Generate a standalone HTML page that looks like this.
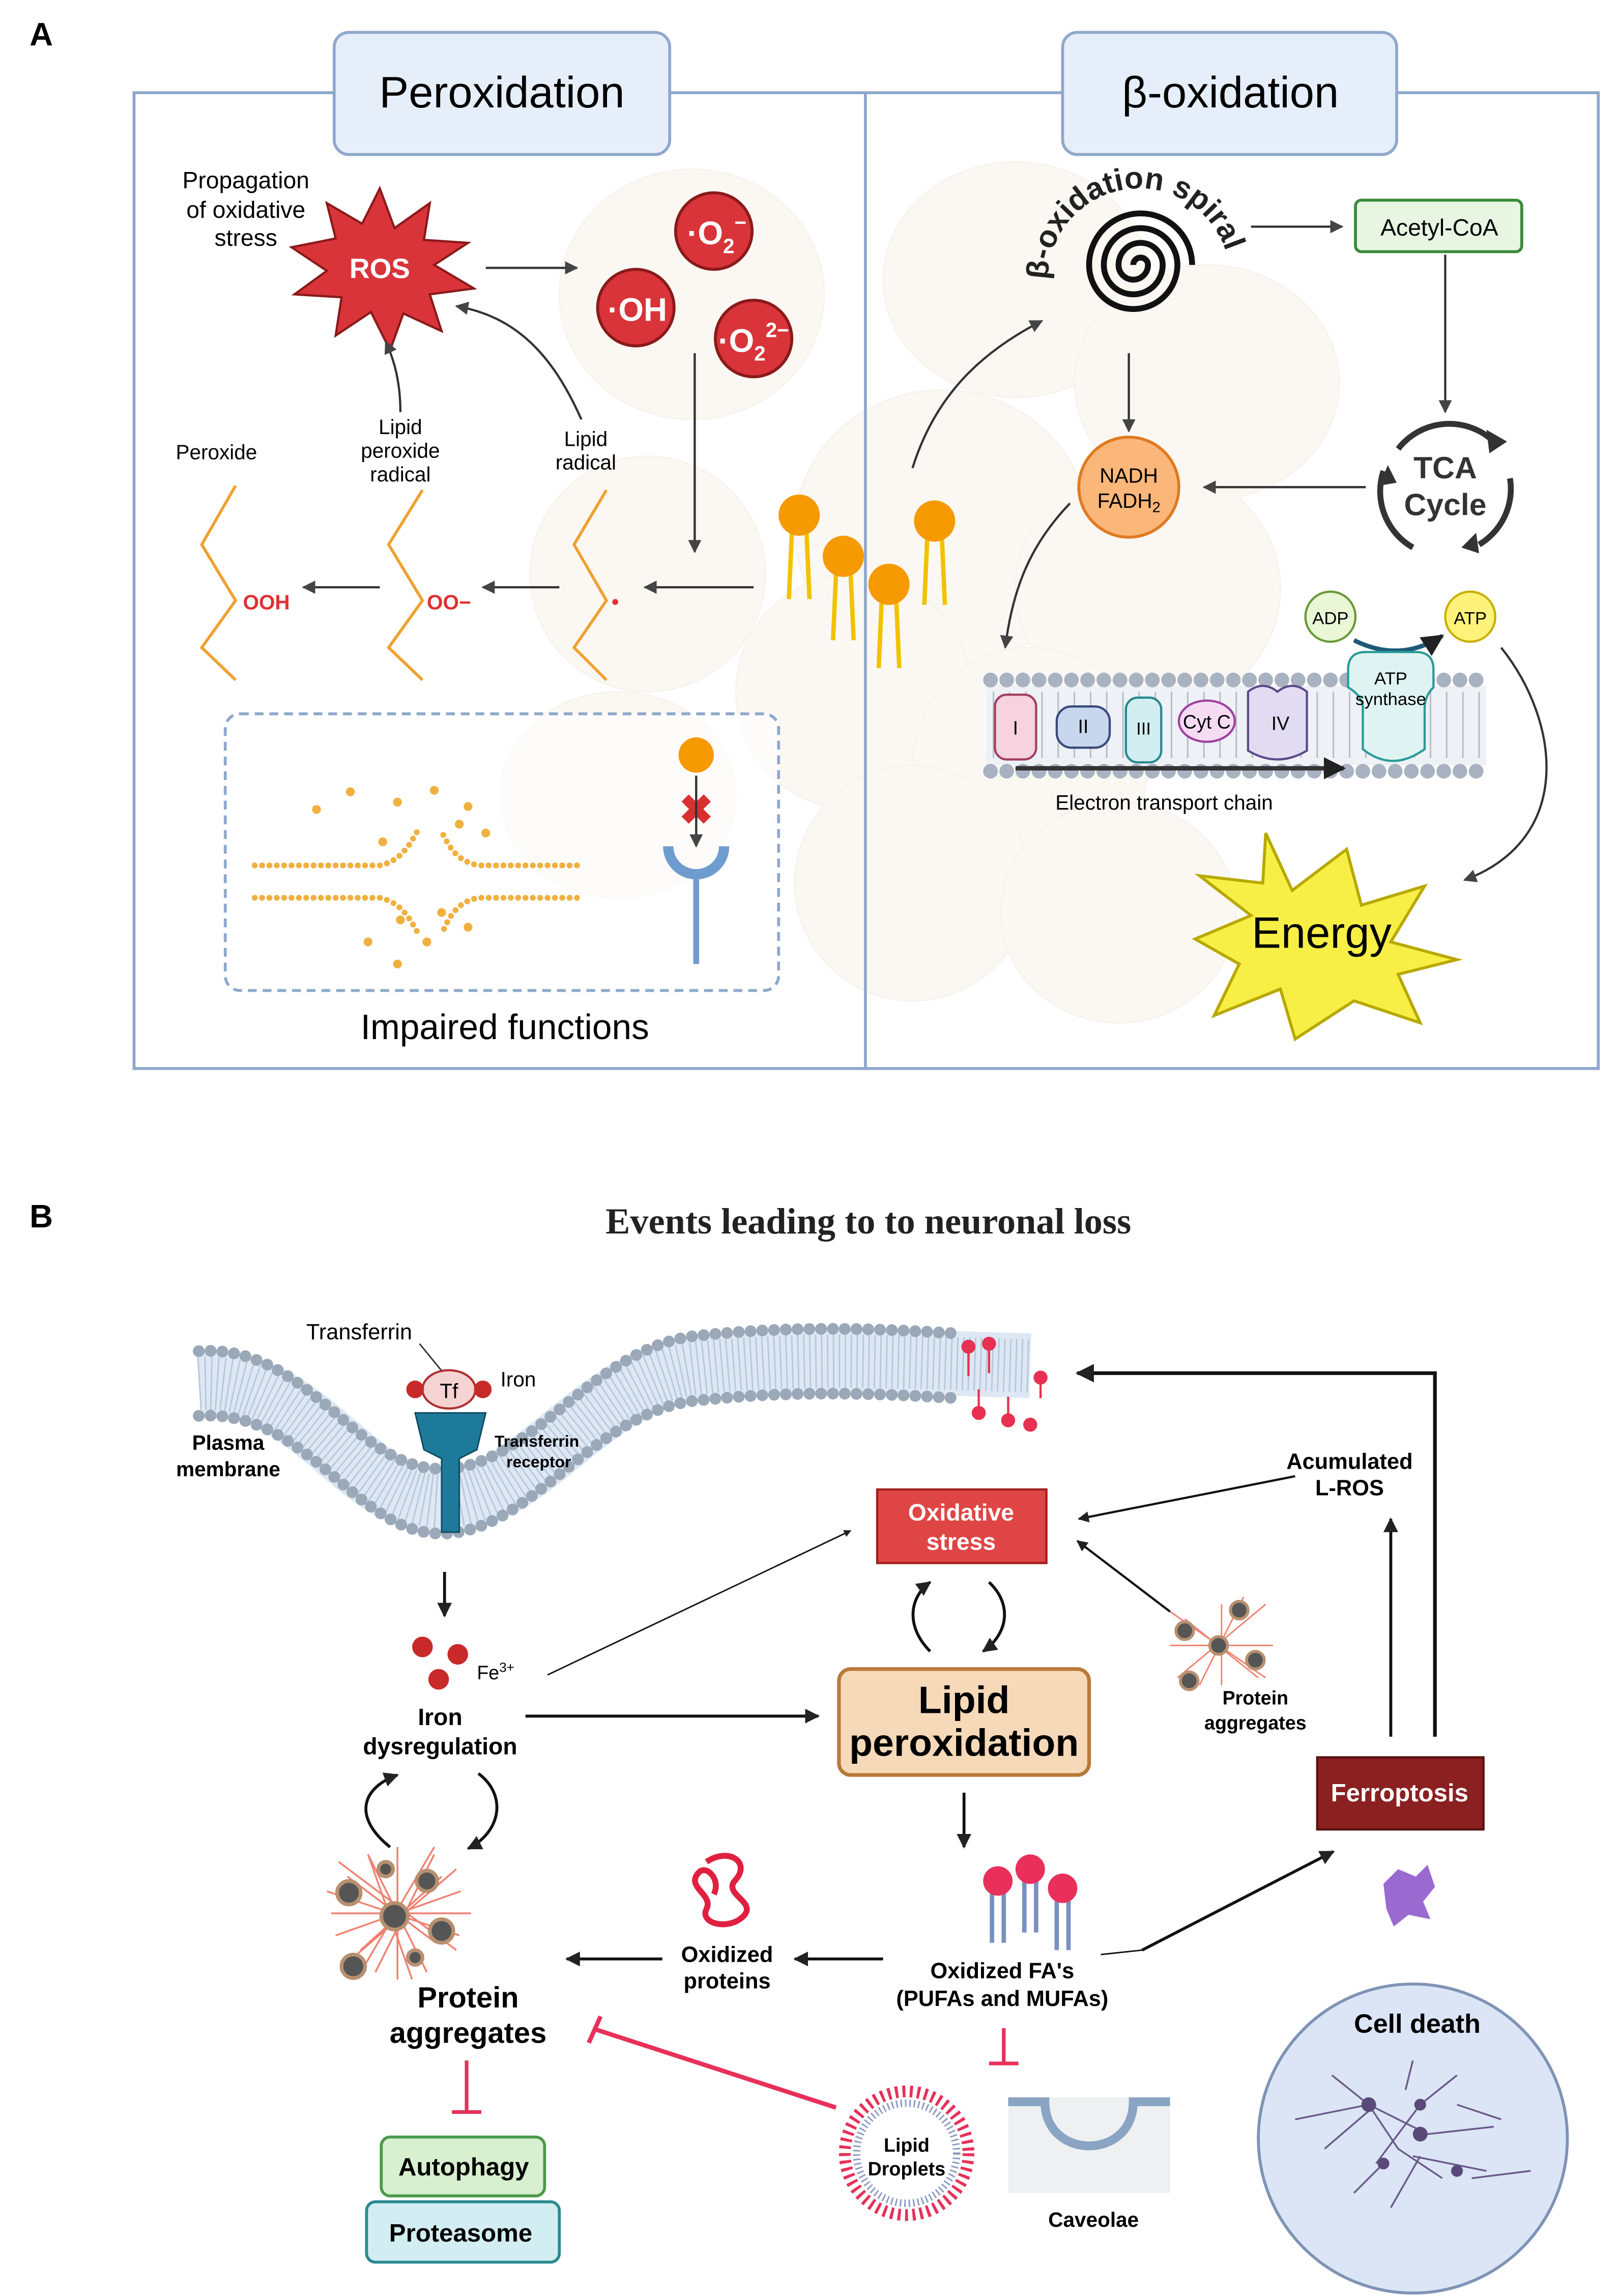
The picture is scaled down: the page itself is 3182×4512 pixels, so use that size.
<!DOCTYPE html>
<html><head><meta charset="utf-8"><style>html,body{margin:0;padding:0;background:#fff}svg{display:block}</style></head>
<body>
<svg xmlns="http://www.w3.org/2000/svg" width="3182" height="4512" viewBox="0 0 1100 1560" font-family="Liberation Sans, sans-serif">
<defs>
<marker id="ah" viewBox="0 0 10 10" refX="9" refY="5" markerWidth="5" markerHeight="5" orient="auto"><path d="M0,0 L10,5 L0,10 z" fill="#222"/></marker>
<marker id="ahg" viewBox="0 0 10 10" refX="9" refY="5" markerWidth="6" markerHeight="6" orient="auto"><path d="M0,0 L10,5 L0,10 z" fill="#444"/></marker>
<path id="arcT" d="M712,190 A62,62 0 0 1 836,190"/>
</defs>
<rect width="1100" height="1560" fill="#fff"/>

<!-- ===== Panel A ===== -->
<text x="20" y="31" font-size="22" font-weight="bold">A</text>
<g opacity="0.55">
<ellipse cx="470" cy="200" rx="90" ry="85" fill="#f8f4ec" stroke="#f0ebe0"/>
<ellipse cx="640" cy="360" rx="100" ry="95" fill="#f8f4ec" stroke="#f0ebe0"/>
<ellipse cx="440" cy="390" rx="80" ry="80" fill="#f8f4ec" stroke="#f0ebe0"/>
<ellipse cx="690" cy="190" rx="90" ry="80" fill="#f8f4ec" stroke="#f0ebe0"/>
<ellipse cx="820" cy="260" rx="90" ry="80" fill="#f8f4ec" stroke="#f0ebe0"/>
<ellipse cx="780" cy="400" rx="90" ry="85" fill="#f8f4ec" stroke="#f0ebe0"/>
<ellipse cx="580" cy="470" rx="80" ry="80" fill="#f8f4ec" stroke="#f0ebe0"/>
<ellipse cx="700" cy="520" rx="80" ry="80" fill="#f8f4ec" stroke="#f0ebe0"/>
<ellipse cx="420" cy="540" rx="80" ry="70" fill="#f8f4ec" stroke="#f0ebe0"/>
<ellipse cx="620" cy="600" rx="80" ry="80" fill="#f8f4ec" stroke="#f0ebe0"/>
<ellipse cx="760" cy="620" rx="80" ry="75" fill="#f8f4ec" stroke="#f0ebe0"/>
</g>
<g fill="none" stroke="#8fa8cc" stroke-width="2">
<rect x="91" y="63" width="995" height="663"/>
<line x1="588" y1="63" x2="588" y2="726"/>
</g>
<rect x="227" y="22" width="228" height="83" rx="10" fill="#e6eef9" stroke="#8fa8cc" stroke-width="2"/>
<text x="341" y="73" font-size="30" text-anchor="middle">Peroxidation</text>
<rect x="722" y="22" width="227" height="83" rx="10" fill="#e6eef9" stroke="#8fa8cc" stroke-width="2"/>
<text x="836" y="73" font-size="30" text-anchor="middle">β-oxidation</text>

<!-- ROS -->
<text font-size="16" text-anchor="middle"><tspan x="167" y="128">Propagation</tspan><tspan x="167" y="148">of oxidative</tspan><tspan x="167" y="167">stress</tspan></text>
<polygon points="258,128 268,155 292,138 288,163 318,165 295,180 322,196 292,200 300,225 274,213 265,238 252,212 228,228 232,202 200,200 222,184 198,168 228,162 222,138 246,152" fill="#d8343a" stroke="#8a1a1a" stroke-width="1.5"/>
<text x="258" y="189" font-size="19" font-weight="bold" fill="#fff" text-anchor="middle">ROS</text>
<line x1="330" y1="182" x2="392" y2="182" stroke="#333" stroke-width="1.5" marker-end="url(#ahg)"/>
<g stroke="#8a1a1a" stroke-width="2" fill="#d8343a">
<circle cx="485" cy="157" r="26"/><circle cx="432" cy="209" r="26"/><circle cx="512" cy="230" r="26"/>
</g>
<g fill="#fff" font-weight="bold" text-anchor="middle">
<text x="487" y="166" font-size="22">·O<tspan font-size="14" dy="6">2</tspan><tspan font-size="14" dy="-16">−</tspan></text>
<text x="433" y="218" font-size="22">·OH</text>
<text x="512" y="239" font-size="22">·O<tspan font-size="14" dy="6">2</tspan><tspan font-size="14" dy="-16">2−</tspan></text>
</g>
<line x1="472" y1="240" x2="472" y2="375" stroke="#333" stroke-width="1.5" marker-end="url(#ahg)"/>
<line x1="512" y1="399" x2="438" y2="399" stroke="#333" stroke-width="1.5" marker-end="url(#ahg)"/>
<line x1="380" y1="399" x2="328" y2="399" stroke="#333" stroke-width="1.5" marker-end="url(#ahg)"/>
<line x1="258" y1="399" x2="206" y2="399" stroke="#333" stroke-width="1.5" marker-end="url(#ahg)"/>
<path d="M395,285 C375,240 350,215 310,208" fill="none" stroke="#333" stroke-width="1.5" marker-end="url(#ahg)"/>
<path d="M272,280 C272,260 268,245 262,232" fill="none" stroke="#333" stroke-width="1.5" marker-end="url(#ahg)"/>
<text font-size="14" text-anchor="middle"><tspan x="147" y="312">Peroxide</tspan></text>
<text font-size="14" text-anchor="middle"><tspan x="272" y="295">Lipid</tspan><tspan x="272" y="311">peroxide</tspan><tspan x="272" y="327">radical</tspan></text>
<text font-size="14" text-anchor="middle"><tspan x="398" y="303">Lipid</tspan><tspan x="398" y="319">radical</tspan></text>
<g fill="none" stroke="#f0a030" stroke-width="2">
<polyline points="160,330 137,370 160,408 137,440 160,462"/>
<polyline points="287,333 264,370 287,408 264,440 287,462"/>
<polyline points="412,333 390,370 412,408 390,440 412,462"/>
</g>
<text x="165" y="414" font-size="14" fill="#e03030" font-weight="bold">OOH</text>
<text x="290" y="414" font-size="14" fill="#e03030" font-weight="bold">OO−</text>
<circle cx="418" cy="409" r="2" fill="#e03030"/>

<!-- lipids -->
<g stroke="#f2c200" stroke-width="3" fill="none">
<path d="M538,362 l-2,45 M548,362 l2,45"/><path d="M568,390 l-2,45 M578,390 l2,45"/>
<path d="M599,409 l-2,45 M609,409 l2,45"/><path d="M630,366 l-2,45 M640,366 l2,45"/>
</g>
<g fill="#f59a00"><circle cx="543" cy="350" r="14"/><circle cx="573" cy="378" r="14"/><circle cx="604" cy="397" r="14"/><circle cx="635" cy="354" r="14"/></g>
<path d="M620,318 C635,270 665,240 708,218" fill="none" stroke="#333" stroke-width="1.5" marker-end="url(#ahg)"/>

<!-- impaired box -->
<rect x="153" y="485" width="376" height="188" rx="10" fill="#fff" fill-opacity="0.6" stroke="#8fa8cc" stroke-width="2" stroke-dasharray="6 4"/>
<g stroke="#f0b040" stroke-width="4" stroke-dasharray="0 5" stroke-linecap="round" fill="none">
<path d="M173,588 L258,588 C272,585 278,575 285,562"/><path d="M173,610 L258,610 C272,613 278,623 285,636"/>
<path d="M392,588 L325,588 C310,585 305,575 300,565"/><path d="M392,610 L325,610 C310,613 305,623 300,635"/>
</g>
<g fill="#f0b040"><circle cx="215" cy="550" r="3"/><circle cx="238" cy="538" r="3"/><circle cx="260" cy="572" r="3"/><circle cx="270" cy="545" r="3"/><circle cx="295" cy="537" r="3"/><circle cx="312" cy="560" r="3"/><circle cx="330" cy="566" r="3"/><circle cx="318" cy="548" r="3"/><circle cx="250" cy="640" r="3"/><circle cx="272" cy="625" r="3"/><circle cx="290" cy="640" r="3"/><circle cx="318" cy="630" r="3"/><circle cx="270" cy="655" r="3"/><circle cx="300" cy="620" r="3"/></g>
<circle cx="473" cy="513" r="12" fill="#f59a00"/>
<text x="473" y="560" font-size="28" fill="#d83030" text-anchor="middle" font-weight="bold">✖</text>
<line x1="473" y1="527" x2="473" y2="575" stroke="#333" stroke-width="1.5" marker-end="url(#ahg)"/>
<path d="M454,575 a19,19 0 0 0 38,0" fill="none" stroke="#6f9ccf" stroke-width="7"/>
<line x1="473" y1="595" x2="473" y2="655" stroke="#6f9ccf" stroke-width="4"/>
<text x="343" y="706" font-size="24" text-anchor="middle">Impaired functions</text>

<!-- right panel -->
<text font-size="21" font-weight="bold" fill="#222"><textPath href="#arcT">β-oxidation spiral</textPath></text>
<path d="M770,180 a5,5 0 0 1 10,0 a10,10 0 0 1 -20,0 a15,15 0 0 1 30,0 a20,20 0 0 1 -40,0 a25,25 0 0 1 50,0 a30,30 0 0 1 -60,0 a35,35 0 0 1 70,0" fill="none" stroke="#111" stroke-width="4"/>
<line x1="850" y1="154" x2="912" y2="154" stroke="#333" stroke-width="1.5" marker-end="url(#ahg)"/>
<rect x="921" y="136" width="113" height="35" rx="4" fill="#e7f5e2" stroke="#3a8a3a" stroke-width="2"/>
<text x="978" y="160" font-size="16" text-anchor="middle">Acetyl-CoA</text>
<line x1="982" y1="173" x2="982" y2="280" stroke="#333" stroke-width="1.5" marker-end="url(#ahg)"/>
<g fill="none" stroke="#333" stroke-width="4">
<path d="M950,305 A44,44 0 0 1 1015,300"/><path d="M1026,325 A44,44 0 0 1 1005,370"/><path d="M960,372 A44,44 0 0 1 940,320"/>
</g>
<g fill="#333"><path d="M1010,292 l14,8 l-12,8z"/><path d="M1003,362 l2,14 l-12,-4z"/><path d="M937,330 l6,-14 l6,12z"/></g>
<text x="982" y="325" font-size="21" font-weight="bold" text-anchor="middle" fill="#333">TCA</text>
<text x="982" y="350" font-size="21" font-weight="bold" text-anchor="middle" fill="#333">Cycle</text>
<line x1="928" y1="331" x2="818" y2="331" stroke="#333" stroke-width="1.5" marker-end="url(#ahg)"/>
<line x1="767" y1="240" x2="767" y2="293" stroke="#333" stroke-width="1.5" marker-end="url(#ahg)"/>
<circle cx="767" cy="331" r="34" fill="#fbb77a" stroke="#e07a20" stroke-width="2"/>
<text x="767" y="328" font-size="14" text-anchor="middle">NADH</text>
<text x="767" y="345" font-size="14" text-anchor="middle">FADH<tspan font-size="10" dy="3">2</tspan></text>
<path d="M727,342 C700,370 688,400 683,440" fill="none" stroke="#333" stroke-width="1.5" marker-end="url(#ahg)"/>
<circle cx="904" cy="419" r="17" fill="#eaf7d6" stroke="#6a9a3a" stroke-width="1.5"/>
<text x="904" y="424" font-size="12" text-anchor="middle">ADP</text>
<circle cx="999" cy="419" r="17" fill="#fff27a" stroke="#c8b000" stroke-width="1.5"/>
<text x="999" y="424" font-size="12" text-anchor="middle">ATP</text>
<path d="M920,435 C940,445 960,445 980,432" fill="none" stroke="#1d5a7a" stroke-width="3" marker-end="url(#ah)"/>
<path d="M1020,440 C1060,490 1070,570 995,598" fill="none" stroke="#333" stroke-width="1.5" marker-end="url(#ahg)"/>
<!-- ETC membrane -->
<rect x="670" y="466" width="340" height="54" fill="#eef1f5"/>
<g stroke="#b4bcc8" stroke-width="1">
<path d="M675,470 v45 M686,470 v45 M697,470 v45 M708,470 v45 M719,470 v45 M730,470 v45 M741,470 v45 M752,470 v45 M763,470 v45 M774,470 v45 M785,470 v45 M796,470 v45 M807,470 v45 M818,470 v45 M829,470 v45 M840,470 v45 M851,470 v45 M862,470 v45 M873,470 v45 M884,470 v45 M895,470 v45 M906,470 v45 M917,470 v45 M928,470 v45 M939,470 v45 M950,470 v45 M961,470 v45 M972,470 v45 M983,470 v45 M994,470 v45 M1005,470 v45"/>
</g>
<g stroke="#a8b2c0" stroke-width="10" stroke-linecap="round" stroke-dasharray="0 11"><line x1="673" y1="462" x2="1008" y2="462"/><line x1="673" y1="524" x2="1008" y2="524"/></g>
<rect x="676" y="472" width="28" height="44" rx="8" fill="#f6d3de" stroke="#a04060" stroke-width="1.5"/><text x="690" y="499" font-size="13" text-anchor="middle">I</text>
<rect x="718" y="480" width="36" height="28" rx="10" fill="#c8d6ee" stroke="#3a4a7a" stroke-width="1.5"/><text x="736" y="498" font-size="13" text-anchor="middle">II</text>
<rect x="765" y="474" width="24" height="44" rx="8" fill="#d2eef0" stroke="#2a8a90" stroke-width="1.5"/><text x="777" y="499" font-size="12" text-anchor="middle">III</text>
<ellipse cx="820" cy="490" rx="19" ry="14" fill="#f5dcf3" stroke="#a040a0" stroke-width="1.5"/><text x="820" y="495" font-size="13" text-anchor="middle">Cyt C</text>
<path d="M848,470 q10,-8 20,0 q10,-8 20,0 v40 q-20,12 -40,0z" fill="#e2dcf3" stroke="#5a4a8a" stroke-width="1.5"/><text x="870" y="496" font-size="13" text-anchor="middle">IV</text>
<path d="M916,455 q0,-12 12,-12 h34 q12,0 12,12 v12 q-6,6 -6,14 v28 q-22,16 -42,0 v-28 q0,-8 -10,-14z" fill="#dff4f2" stroke="#2a9a98" stroke-width="1.5"/>
<text x="945" y="465" font-size="12" text-anchor="middle">ATP</text><text x="945" y="479" font-size="12" text-anchor="middle">synthase</text>
<line x1="690" y1="522" x2="913" y2="522" stroke="#333" stroke-width="3" marker-end="url(#ah)"/>
<text x="791" y="550" font-size="14" text-anchor="middle">Electron transport chain</text>
<polygon points="860,566 878,605 915,577 925,615 968,602 945,640 990,652 950,662 965,695 920,680 880,706 870,672 825,690 842,655 812,638 850,622 815,595 858,600" fill="#f7ef45" stroke="#b8a800" stroke-width="2"/>
<text x="898" y="644" font-size="30" text-anchor="middle">Energy</text>

<!-- ===== Panel B ===== -->
<text x="20" y="834" font-size="22" font-weight="bold">B</text>
<text x="590" y="838" font-size="25" font-weight="bold" text-anchor="middle" font-family="Liberation Serif, serif" fill="#222">Events leading to to neuronal loss</text>

<!-- membrane -->
<path d="M135,940 C210,935 240,1020 300,1020 C360,1020 400,940 470,930 C540,922 600,925 700,928" fill="none" stroke="#dde8f4" stroke-width="44"/>
<g fill="none"><path d="M135,940 C210,935 240,1020 300,1020 C360,1020 400,940 470,930 C540,922 600,925 700,928" stroke-width="36" stroke-dasharray="1 3" stroke="#b8c8da"/></g>
<g fill="none" stroke="#9aa8b8" stroke-width="8" stroke-linecap="round" stroke-dasharray="0 8">
<path d="M135,918 C210,913 240,998 300,998 C360,998 400,918 470,908 C540,900 600,903 650,906"/>
<path d="M135,962 C210,957 240,1042 300,1042 C360,1042 400,962 470,952 C540,944 600,947 650,950"/>
</g>
<g fill="#e83050" stroke="#e83050" stroke-width="1.5">
<circle cx="658" cy="915" r="4"/><line x1="658" y1="919" x2="658" y2="935"/><circle cx="672" cy="913" r="4"/><line x1="672" y1="917" x2="672" y2="933"/>
<circle cx="665" cy="960" r="4"/><line x1="665" y1="944" x2="665" y2="956"/><circle cx="685" cy="965" r="4"/><line x1="685" y1="949" x2="685" y2="961"/>
<circle cx="700" cy="968" r="4"/><circle cx="707" cy="936" r="4"/><line x1="707" y1="940" x2="707" y2="950"/>
</g>
<text x="155" y="985" font-size="14" font-weight="bold" text-anchor="middle">Plasma</text>
<text x="155" y="1003" font-size="14" font-weight="bold" text-anchor="middle">membrane</text>
<text x="244" y="910" font-size="15" text-anchor="middle">Transferrin</text>
<line x1="285" y1="913" x2="303" y2="935" stroke="#333"/>
<ellipse cx="305" cy="944" rx="18" ry="13" fill="#f6d3d3" stroke="#b03030" stroke-width="1.5"/>
<text x="305" y="950" font-size="14" text-anchor="middle">Tf</text>
<circle cx="282" cy="944" r="6" fill="#c82a2a"/><circle cx="328" cy="944" r="6" fill="#c82a2a"/>
<text x="340" y="942" font-size="14">Iron</text>
<path d="M282,960 h48 l-6,25 l-12,6 v50 h-12 v-50 l-12,-6z" fill="#1e7a9a" stroke="#0d4a60"/>
<text x="336" y="983" font-size="11" font-weight="bold">Transferrin</text>
<text x="344" y="997" font-size="11" font-weight="bold">receptor</text>
<line x1="302" y1="1068" x2="302" y2="1098" stroke="#111" stroke-width="2" marker-end="url(#ah)"/>
<circle cx="287" cy="1119" r="7" fill="#c82a2a"/><circle cx="311" cy="1124" r="7" fill="#c82a2a"/><circle cx="298" cy="1141" r="7" fill="#c82a2a"/>
<text x="324" y="1141" font-size="13">Fe<tspan font-size="9" dy="-5">3+</tspan></text>
<text x="299" y="1172" font-size="16" font-weight="bold" text-anchor="middle">Iron</text>
<text x="299" y="1192" font-size="16" font-weight="bold" text-anchor="middle">dysregulation</text>
<path d="M265,1255 C240,1235 245,1215 270,1206" fill="none" stroke="#111" stroke-width="2" marker-end="url(#ah)"/>
<path d="M325,1205 C345,1220 340,1245 318,1256" fill="none" stroke="#111" stroke-width="2" marker-end="url(#ah)"/>
<!-- protein aggregates left -->
<g stroke="#f08070" stroke-width="1.2" fill="none">
<path d="M230,1265 l80,60 M240,1330 l70,-60 M225,1300 h95 M270,1255 v90 M250,1260 l40,80 M295,1260 l-40,80"/>
<path d="M236,1275 l60,45 M300,1275 l-55,50 M228,1315 l85,-30 M222,1285 l90,30 M245,1340 l50,-85 M280,1345 l-30,-85"/>
</g>
<g fill="#555" stroke="#b89070" stroke-width="2.5"><circle cx="237" cy="1286" r="8"/><circle cx="268" cy="1302" r="9"/><circle cx="300" cy="1312" r="8"/><circle cx="240" cy="1336" r="8"/><circle cx="290" cy="1278" r="7"/><circle cx="262" cy="1270" r="5"/><circle cx="282" cy="1330" r="5"/></g>
<text x="318" y="1364" font-size="20" font-weight="bold" text-anchor="middle">Protein</text>
<text x="318" y="1388" font-size="20" font-weight="bold" text-anchor="middle">aggregates</text>
<line x1="317" y1="1400" x2="317" y2="1435" stroke="#e8305a" stroke-width="2.5"/>
<line x1="307" y1="1435" x2="327" y2="1435" stroke="#e8305a" stroke-width="2.5"/>
<rect x="259" y="1452" width="111" height="40" rx="6" fill="#d8f0cf" stroke="#4a9a4a" stroke-width="2"/>
<text x="315" y="1478" font-size="17" font-weight="bold" text-anchor="middle">Autophagy</text>
<rect x="249" y="1496" width="131" height="41" rx="6" fill="#d2eef3" stroke="#2a8a90" stroke-width="2"/>
<text x="313" y="1523" font-size="17" font-weight="bold" text-anchor="middle">Proteasome</text>

<!-- central -->
<line x1="372" y1="1138" x2="578" y2="1040" stroke="#111" stroke-width="1" marker-end="url(#ah)"/>
<line x1="357" y1="1166" x2="556" y2="1166" stroke="#111" stroke-width="2" marker-end="url(#ah)"/>
<rect x="596" y="1012" width="115" height="50" fill="#e04545" stroke="#a02020" stroke-width="1.5"/>
<text x="653" y="1033" font-size="16" font-weight="bold" fill="#fff" text-anchor="middle">Oxidative</text>
<text x="653" y="1053" font-size="16" font-weight="bold" fill="#fff" text-anchor="middle">stress</text>
<path d="M632,1122 C615,1105 618,1085 632,1075" fill="none" stroke="#111" stroke-width="2" marker-end="url(#ah)"/>
<path d="M672,1075 C688,1090 685,1110 668,1122" fill="none" stroke="#111" stroke-width="2" marker-end="url(#ah)"/>
<rect x="570" y="1134" width="170" height="72" rx="8" fill="#f6d9b8" stroke="#b87a3a" stroke-width="2.5"/>
<text x="655" y="1164" font-size="26" font-weight="bold" text-anchor="middle">Lipid</text>
<text x="655" y="1193" font-size="26" font-weight="bold" text-anchor="middle">peroxidation</text>
<line x1="655" y1="1218" x2="655" y2="1255" stroke="#111" stroke-width="2" marker-end="url(#ah)"/>
<g stroke="#7a90c0" stroke-width="3"><path d="M674,1285 v35 M682,1285 v35 M696,1278 v35 M704,1278 v35 M718,1290 v35 M726,1290 v35"/></g>
<g fill="#e8305a"><circle cx="678" cy="1278" r="10"/><circle cx="700" cy="1270" r="10"/><circle cx="722" cy="1283" r="10"/></g>
<text x="681" y="1344" font-size="15" font-weight="bold" text-anchor="middle">Oxidized FA's</text>
<text x="681" y="1363" font-size="15" font-weight="bold" text-anchor="middle">(PUFAs and MUFAs)</text>
<line x1="600" y1="1331" x2="540" y2="1331" stroke="#111" stroke-width="2" marker-end="url(#ah)"/>
<path d="M480,1265 c15,-10 30,0 20,12 c-10,10 15,15 5,25 c-10,10 -30,5 -25,-5 c5,-10 -15,-15 -5,-25 c5,-5 15,5 10,15" fill="none" stroke="#e02040" stroke-width="4"/>
<text x="494" y="1333" font-size="15" font-weight="bold" text-anchor="middle">Oxidized</text>
<text x="494" y="1351" font-size="15" font-weight="bold" text-anchor="middle">proteins</text>
<line x1="450" y1="1331" x2="385" y2="1331" stroke="#111" stroke-width="2" marker-end="url(#ah)"/>
<line x1="682" y1="1378" x2="682" y2="1402" stroke="#e8305a" stroke-width="2.5"/>
<line x1="672" y1="1402" x2="692" y2="1402" stroke="#e8305a" stroke-width="2.5"/>
<line x1="568" y1="1432" x2="405" y2="1379" stroke="#e8305a" stroke-width="3"/>
<line x1="400" y1="1388" x2="408" y2="1370" stroke="#e8305a" stroke-width="3"/>
<circle cx="616" cy="1463" r="42" fill="#fff" stroke="#e8305a" stroke-width="8" stroke-dasharray="2 3"/>
<circle cx="616" cy="1463" r="34" fill="#fff" stroke="#8a98c0" stroke-width="5" stroke-dasharray="1 2"/>
<text x="616" y="1462" font-size="13" font-weight="bold" text-anchor="middle">Lipid</text>
<text x="616" y="1478" font-size="13" font-weight="bold" text-anchor="middle">Droplets</text>
<rect x="685" y="1425" width="110" height="65" fill="#eef0f2"/>
<path d="M685,1428 h25 c0,40 60,40 60,0 h25" fill="none" stroke="#8aa4c4" stroke-width="6"/>
<text x="743" y="1513" font-size="14" font-weight="bold" text-anchor="middle">Caveolae</text>

<!-- right B -->
<line x1="776" y1="1325" x2="906" y2="1258" stroke="#111" stroke-width="2" marker-end="url(#ah)"/>
<line x1="748" y1="1328" x2="776" y2="1325" stroke="#111" stroke-width="1"/>
<rect x="895" y="1194" width="113" height="49" fill="#8a2020" stroke="#5a1010" stroke-width="1.5"/>
<text x="951" y="1224" font-size="17" font-weight="bold" fill="#fff" text-anchor="middle">Ferroptosis</text>
<line x1="945" y1="1180" x2="945" y2="1032" stroke="#111" stroke-width="2" marker-end="url(#ah)"/>
<polyline points="975,1180 975,933 732,933" fill="none" stroke="#111" stroke-width="2.5" marker-end="url(#ah)"/>
<text x="917" y="998" font-size="15" font-weight="bold" text-anchor="middle">Acumulated</text>
<text x="917" y="1016" font-size="15" font-weight="bold" text-anchor="middle">L-ROS</text>
<line x1="880" y1="1003" x2="733" y2="1032" stroke="#111" stroke-width="1.5" marker-end="url(#ah)"/>
<line x1="795" y1="1095" x2="732" y2="1047" stroke="#111" stroke-width="1.5" marker-end="url(#ah)"/>
<g stroke="#f08070" stroke-width="1" fill="none"><path d="M795,1095 l65,45 M800,1140 l60,-50 M795,1118 h70 M830,1090 v55 M805,1100 l50,40 M815,1145 l30,-60"/></g>
<g fill="#555" stroke="#b89070" stroke-width="2"><circle cx="842" cy="1094" r="6"/><circle cx="805" cy="1108" r="6"/><circle cx="828" cy="1118" r="6"/><circle cx="853" cy="1128" r="6"/><circle cx="808" cy="1142" r="6"/></g>
<text x="853" y="1158" font-size="13" font-weight="bold" text-anchor="middle">Protein</text>
<text x="853" y="1175" font-size="13" font-weight="bold" text-anchor="middle">aggregates</text>
<path d="M940,1280 l10,-10 l12,5 l8,-8 l5,15 l-8,10 l5,12 l-15,-3 l-10,8 l-5,-12 z" fill="#9a6ad0"/>
<circle cx="960" cy="1453" r="105" fill="#dbe5f5" stroke="#7f93b5" stroke-width="2"/>
<text x="963" y="1381" font-size="18" font-weight="bold" text-anchor="middle">Cell death</text>
<g stroke="#6a5a8a" stroke-width="1.2" fill="none">
<path d="M880,1440 l50,-10 l40,20 l45,-5 M905,1410 l25,20 l20,30 l30,20 M935,1470 l30,-40 l25,-20 M960,1465 l50,10 M900,1460 l35,-30 M945,1500 l20,-35 M990,1430 l30,10 M920,1490 l20,-20 M1000,1480 l40,-5 M955,1420 l5,-20"/>
</g>
<g fill="#5a4a7a"><circle cx="930" cy="1430" r="5"/><circle cx="965" cy="1450" r="5"/><circle cx="940" cy="1470" r="4"/><circle cx="990" cy="1475" r="4"/><circle cx="965" cy="1430" r="4"/></g>
</svg>
</body></html>
